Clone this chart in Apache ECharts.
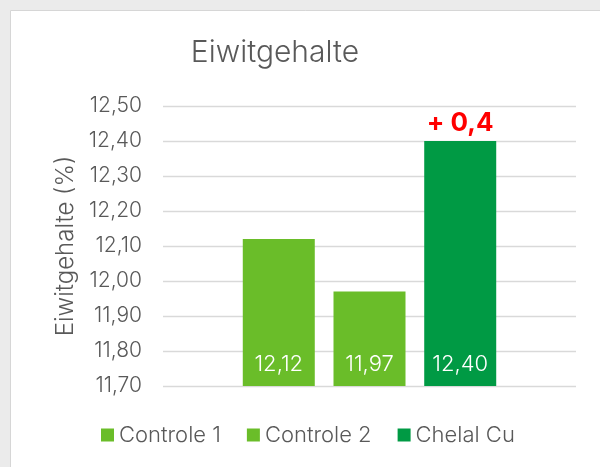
<!DOCTYPE html>
<html>
<head>
<meta charset="utf-8">
<script src="https://cdn.jsdelivr.net/npm/echarts@6/dist/echarts.min.js"></script>
<style>
  html, body { margin: 0; padding: 0; background: #ebebeb; }
  #chart { width: 600px; height: 467px; }
</style>
</head>
<body>
<div id="chart"></div>
<script>
// series names + values
const seriesNames = ['Controle 1', 'Controle 2', 'Chelal Cu'];
const seriesValues = [12.12, 11.97, 12.40];
const seriesColors = ['#6abd29', '#6abd29', '#009a44'];
const yMin = 11.7;
const yMax = 12.5;
const yStep = 0.1;
const increaseText = '+ 0,4';

const fontFamily = 'Inter, "Open Sans", sans-serif';
const textColor = '#595959';

let fmt = (v, d) => v.toFixed(d).replace('.', ',');

let chart = echarts.init(document.getElementById('chart'));

let series = seriesNames.map((name, i) => {
  let s = {
    name: name,
    type: 'bar',
    barWidth: 72,
    barGap: '26%',
    data: [seriesValues[i]],
    itemStyle: { color: seriesColors[i] },
    label: {
      show: true,
      position: 'insideBottom',
      distance: 11,
      color: '#ffffff',
      fontSize: 22,
      fontWeight: 300,
      fontFamily: fontFamily,
      formatter: (p) => fmt(p.value, 2)
    }
  };
  if (i === seriesNames.length - 1) {
    // the "+ 0,4" callout sitting on top of the last bar
    s.markPoint = {
      symbol: 'rect',
      symbolSize: 0,
      data: [{ type: 'max' }],
      label: {
        show: true,
        position: 'top',
        distance: 5,
        formatter: increaseText,
        color: '#ff0000',
        fontSize: 26,
        fontWeight: 'bold',
        fontFamily: fontFamily
      }
    };
  }
  return s;
});

let option = {
  animation: false,
  graphic: [
    {
      type: 'rect',
      z: -10,
      silent: true,
      shape: { x: 10.5, y: 10.5, width: 600, height: 467 },
      style: { fill: '#ffffff', stroke: '#d6d6d6', lineWidth: 1 }
    }
  ],
  title: {
    text: 'Eiwitgehalte',
    left: 270,
    top: 33,
    textAlign: 'center',
    textStyle: {
      fontFamily: fontFamily,
      fontSize: 30,
      fontWeight: 300,
      color: textColor
    }
  },
  legend: {
    bottom: 16,
    left: 96,
    itemWidth: 13,
    itemHeight: 13,
    itemGap: 26,
    icon: 'rect',
    textStyle: {
      fontFamily: fontFamily,
      fontSize: 22,
      fontWeight: 300,
      color: textColor
    }
  },
  grid: {
    left: 163,
    right: 24,
    top: 106,
    bottom: 81
  },
  xAxis: {
    type: 'category',
    data: [''],
    axisLine: { show: false },
    axisTick: { show: false },
    axisLabel: { show: false }
  },
  yAxis: {
    type: 'value',
    min: yMin,
    max: yMax,
    interval: yStep,
    name: 'Eiwitgehalte (%)',
    nameLocation: 'middle',
    nameGap: 84,
    nameTextStyle: {
      fontFamily: fontFamily,
      fontSize: 24,
      fontWeight: 300,
      color: textColor
    },
    axisLine: { show: false },
    axisTick: { show: false },
    axisLabel: {
      margin: 21,
      fontFamily: fontFamily,
      fontSize: 21,
      fontWeight: 300,
      color: textColor,
      formatter: (v) => fmt(v, 2)
    },
    splitLine: { lineStyle: { color: '#d9d9d9', width: 1.3 } }
  },
  series: series
};

chart.setOption(option);
</script>
</body>
</html>
